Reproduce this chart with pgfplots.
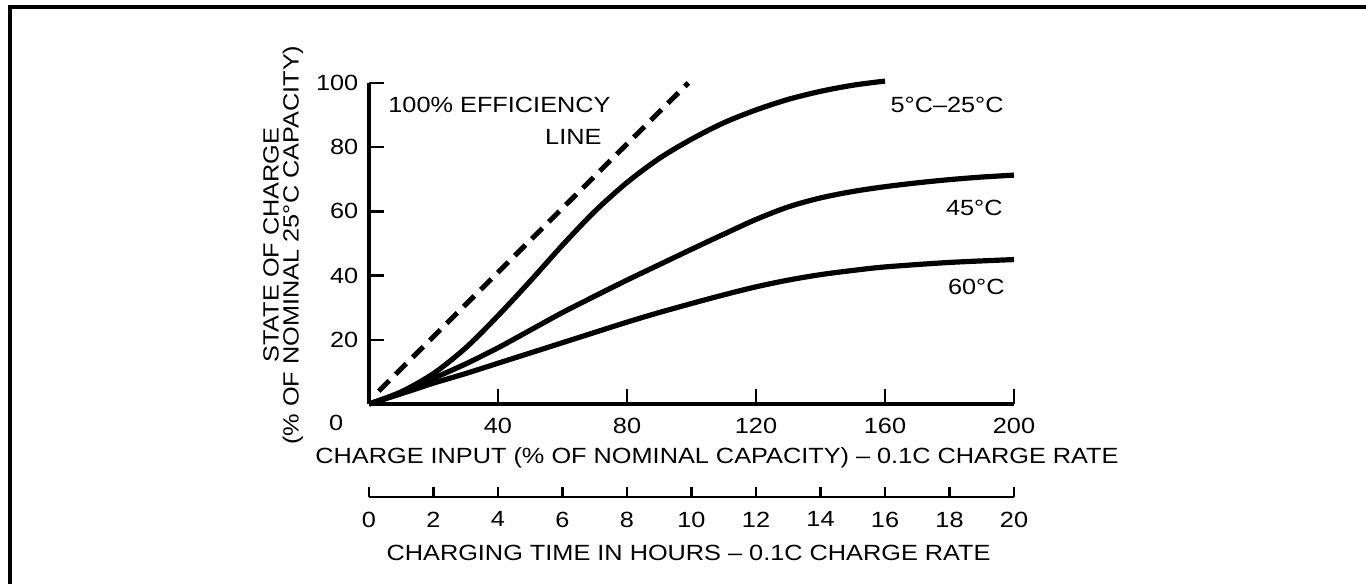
\documentclass[border=0pt]{standalone}
\usepackage{fontspec}
\setmainfont{Liberation Sans}[FakeStretch=1.15]
\usepackage{pgfplots}
\pgfplotsset{compat=1.18}
\begin{document}
\fontsize{11}{13}\selectfont
\begin{tikzpicture}
\useasboundingbox (0,0) rectangle (683pt,292pt);
\draw[line width=1.8pt] (5pt,0) -- (5pt,288.5pt) -- (683pt,288.5pt);
\begin{axis}[
 at={(184.5pt,90pt)}, anchor=south west, scale only axis,
 width=322.5pt, height=160.5pt,
 xmin=0, xmax=200, ymin=0, ymax=100,
 axis x line*=bottom, axis y line*=left,
 axis line style={line width=1.8pt},
 xtick={40,80,120,160,200}, ytick={20,40,60,80,100},
 tick align=inside, major tick length=7.5pt,
 tick style={line width=1.2pt,black},
 ticklabel style={font=\fontsize{11}{13}\selectfont},
 /pgf/number format/assume math mode=true,
 xticklabel style={yshift=-3pt}, yticklabel style={xshift=-1.5pt},
 clip=false,
]
\addplot[black, line width=2.5pt, dash pattern=on 7.5pt off 4.5pt] coordinates {(3,4) (99,100)};
\addplot[black, line width=2.6pt, smooth] coordinates {
 (0,0) (10,3.8) (20,9.5) (30,17.5) (40,27.5) (50,38.3) (60,49.5) (70,60)
 (80,69) (90,76.5) (100,82.5) (110,87.6) (120,91.6) (130,94.9) (140,97.4) (150,99.3) (160,100.6)};
\addplot[black, line width=2.6pt, smooth] coordinates {
 (0,0) (10,3.5) (20,8) (30,12.5) (40,17.5) (50,23) (60,28.5) (70,33.6) (80,38.6)
 (90,43.4) (100,48.2) (110,52.9) (120,57.5) (130,61.4) (140,64.2) (150,66.2) (160,67.7)
 (170,68.9) (180,69.9) (190,70.7) (200,71.3)};
\addplot[black, line width=2.6pt, smooth] coordinates {
 (0,0) (10,3.2) (20,6.5) (30,9.5) (40,12.7) (50,15.9) (60,19.1) (70,22.3) (80,25.5)
 (90,28.5) (100,31.3) (110,34) (120,36.5) (130,38.6) (140,40.3) (150,41.6) (160,42.7) (180,44.1) (200,45)};
\node[anchor=west, inner sep=0pt] at (axis cs:5.9,93.1) {100\% EFFICIENCY};
\node[anchor=east, inner sep=0pt] at (axis cs:72.2,83.2) {LINE};
\node[anchor=west, inner sep=0pt] at (axis cs:161.6,93.1) {5°C–25°C};
\node[anchor=east, inner sep=0pt] at (axis cs:196.6,61.1) {45°C};
\node[anchor=east, inner sep=0pt] at (axis cs:197.2,36.4) {60°C};
\node at (axis cs:-10.2,-5.9) {0};
\node[rotate=90] at (axis cs:-30.4,49.5) {STATE OF CHARGE};
\node[rotate=90] at (axis cs:-23.6,49.5) {(\% OF NOMINAL 25°C CAPACITY)};
\node at (axis cs:107.9,-16.8) {CHARGE INPUT (\% OF NOMINAL CAPACITY) – 0.1C CHARGE RATE};
\node at (axis cs:99.1,-46.4) {CHARGING TIME IN HOURS – 0.1C CHARGE RATE};
\end{axis}
\begin{axis}[
 at={(184.5pt,43.5pt)}, anchor=south west, scale only axis,
 width=322.5pt, height=10pt,
 xmin=0, xmax=20, ymin=0, ymax=1,
 axis x line*=bottom, axis y line=none, ytick=\empty,
 axis line style={line width=1.4pt},
 xtick={0,2,...,20},
 tick align=inside, major tick length=5pt,
 tick style={line width=1.2pt,black},
 ticklabel style={font=\fontsize{11}{13}\selectfont},
 /pgf/number format/assume math mode=true,
 xticklabel style={yshift=-3.5pt},
]
\addplot[draw=none] coordinates {(0,0) (20,0)};
\end{axis}
\end{tikzpicture}
\end{document}
